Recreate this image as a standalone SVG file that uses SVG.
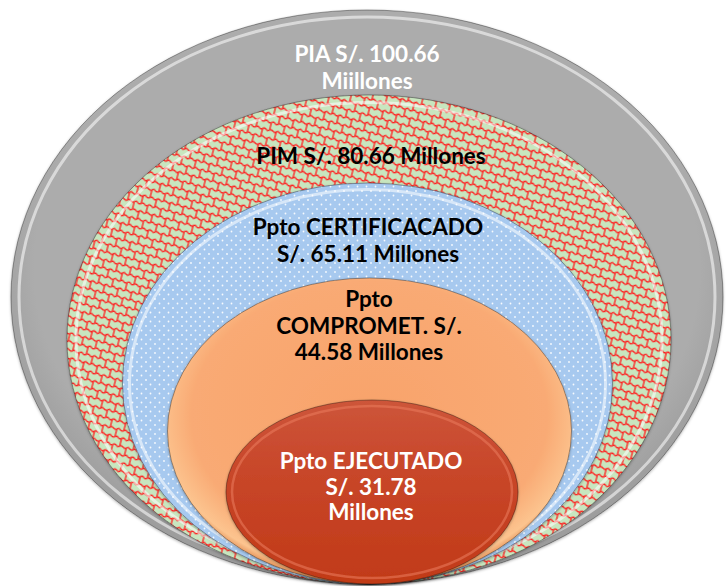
<svg xmlns="http://www.w3.org/2000/svg" width="727" height="586" viewBox="0 0 727 586">
<style>
.lbl{font-family:Lato,"Liberation Sans",sans-serif;font-weight:bold;font-size:22.5px;text-anchor:middle}
.w{fill:#ffffff}
.k{fill:#000000}
.edge{fill:none;stroke:#000;stroke-opacity:0.35;stroke-width:1}
.rim{fill:none;stroke:#fff;stroke-opacity:0.55;stroke-width:3}
</style>
<defs>
<pattern id="scales" width="14" height="16" patternUnits="userSpaceOnUse" patternTransform="rotate(15)">
<rect width="14" height="16" fill="#c8e6bf"/>
<path d="M0 0 C3 -3 4 3 7 0 C10 -3 11 3 14 0 M0 8 C3 5 4 11 7 8 C10 5 11 11 14 8 M0 16 C3 13 4 19 7 16 C10 13 11 19 14 16 M0 0 V8 M14 0 V8 M7 8 V16" fill="none" stroke="#ff1f1f" stroke-width="1.3"/>
</pattern>
<pattern id="dots" width="9" height="9" patternUnits="userSpaceOnUse">
<rect width="9" height="9" fill="#a7c9ef"/>
<circle cx="2" cy="2" r="0.9" fill="#fff" fill-opacity="0.9"/>
<circle cx="6.5" cy="6.5" r="0.9" fill="#fff" fill-opacity="0.9"/>
</pattern>
<radialGradient id="gGray" cx="0.5" cy="0.45" r="0.55">
<stop offset="0.85" stop-color="#acacac"/>
<stop offset="1" stop-color="#9a9a9a"/>
</radialGradient>
<radialGradient id="gOrange" cx="0.5" cy="0.45" r="0.55">
<stop offset="0" stop-color="#f8a36b"/>
<stop offset="0.8" stop-color="#f9aa74"/>
<stop offset="0.95" stop-color="#fcc48f"/>
<stop offset="1" stop-color="#e08a50"/>
</radialGradient>
<linearGradient id="gRed" x1="0" y1="0" x2="0" y2="1">
<stop offset="0" stop-color="#cd553a"/>
<stop offset="0.4" stop-color="#c84629"/>
<stop offset="1" stop-color="#c13a18"/>
</linearGradient>
<filter id="sh" x="-10%" y="-10%" width="120%" height="120%">
<feDropShadow dx="0" dy="1" stdDeviation="1.5" flood-color="#000" flood-opacity="0.35"/>
</filter>
</defs>

<g id="pia">
<ellipse cx="367" cy="297" rx="356" ry="287" fill="url(#gGray)" filter="url(#sh)"/>
<ellipse class="edge" cx="367" cy="297" rx="356" ry="287"/>
<ellipse class="rim" cx="367" cy="297" rx="348" ry="280" stroke-opacity="0.7"/>
<text class="lbl w" x="367" y="62">PIA S/. 100.66</text>
<text class="lbl w" x="367" y="89">Miillones</text>
</g>

<g id="pim">
<ellipse cx="369" cy="339.5" rx="302" ry="244.5" fill="url(#scales)" filter="url(#sh)"/>
<ellipse class="edge" cx="369" cy="339.5" rx="302" ry="244.5"/>
<ellipse class="rim" cx="369" cy="339.5" rx="293" ry="237" stroke-opacity="0.6"/>
<text class="lbl k" x="371" y="164">PIM S/. 80.66 Millones</text>
</g>

<g id="certificado">
<ellipse cx="367.5" cy="383.5" rx="245" ry="200.5" fill="url(#dots)" filter="url(#sh)"/>
<ellipse class="edge" cx="367.5" cy="383.5" rx="245" ry="200.5"/>
<ellipse class="rim" cx="367.5" cy="383.5" rx="238" ry="194" stroke="#dcefff" stroke-opacity="0.7"/>
<text class="lbl k" x="368" y="235">Ppto CERTIFICACADO</text>
<text class="lbl k" x="368" y="262">S/. 65.11 Millones</text>
</g>

<g id="comprometido">
<ellipse cx="369.5" cy="431" rx="202" ry="153" fill="url(#gOrange)" filter="url(#sh)"/>
<ellipse class="edge" cx="369.5" cy="431" rx="202" ry="153" stroke-opacity="0.25"/>
<text class="lbl k" x="369" y="307">Ppto</text>
<text class="lbl k" x="369" y="334">COMPROMET. S/.</text>
<text class="lbl k" x="369" y="360">44.58 Millones</text>
</g>

<g id="ejecutado">
<ellipse cx="372" cy="492" rx="146" ry="92" fill="url(#gRed)" filter="url(#sh)"/>
<ellipse class="edge" cx="372" cy="492" rx="146" ry="92" stroke-opacity="0.4"/>
<ellipse cx="372" cy="492" rx="140" ry="86" fill="none" stroke="#e8785a" stroke-opacity="0.6" stroke-width="2.5"/>
<text class="lbl w" x="371" y="469">Ppto EJECUTADO</text>
<text class="lbl w" x="371" y="495">S/. 31.78</text>
<text class="lbl w" x="371" y="520">Millones</text>
</g>
</svg>
